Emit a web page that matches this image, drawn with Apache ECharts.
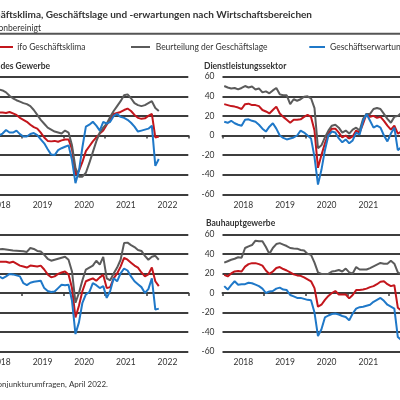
<!DOCTYPE html>
<html><head><meta charset="utf-8">
<script src="https://cdn.jsdelivr.net/npm/echarts@6/dist/echarts.min.js"></script>
<style>html,body{margin:0;padding:0;background:#fff}#c{width:400px;height:400px}</style>
</head><body><div id="c"></div>
<script>
// ---- data (monthly, Jan 2018 – Apr 2022) ----
const years = ['2018','2019','2020','2021','2022'];
const panelTitles = ['Verarbeitendes Gewerbe','Dienstleistungssektor','Handel','Bauhauptgewerbe'];
const seriesNames = ['ifo Geschäftsklima','Beurteilung der Geschäftslage','Geschäftserwartungen'];
const yTicks = [-60,-40,-20,0,20,40,60];

const vgKlima = [28,27,26,25,24,23.5, 23.5,23,24,22.5,21,18, 16,14,11,8.5,7,3, -2,-5.5,-6,-5.5,-6.4,-5,
  -4,-4,-14,-40,-36,-27, -16,-11,-6,-2,2,5, 11,16,22,23,24,26, 27.5,25,21,18,17,17.5, 20,22,-2,-1];
const vgLage = [50,50,49,48,48,47, 46,44,40.5,38,36,34.5, 33,32,30,26,21,16, 12,8,6,4,3,2,
  5,3,-10,-33,-42,-42, -38,-28,-17,-6,3,8, 12,19,25,30,35,41, 42,38,33,31,30,31, 33,35,28,25];
const vgErw = [5,4,3,2,1,0, 2,5.6,3,3,5,1.4, -1,-1,1.5,2.5,0.5,-4, -8,-14,-19.5,-20,-15,-13,
  -11.5,-10,-25,-48.6,-36,-12, 9,11,14,10,5,14, 12,14,20,22,19,18, 16,13,9,4,5,6, 7,10,-31,-24];

const dlKlima = [32,31,30,29.5,28.5,27, 32,32.5,31,31,30,26, 24.5,22.5,26,29.5,22.5,19, 16,13,16,16,16.5,19,
  21,19,5,-33,-20,-8, 2,7,7,3,-2,0, -3,-1,5,3,12,22, 19,20,18,19,15,10, 6,10,2,4];
const dlLage = [50.5,49,48,48.5,47,48.5, 50.5,49,50,47,48,44, 45,43,46,48.5,42,41, 41,32,37,35.5,37,39.5,
  40,38,28,-13,-10,-2, 5,10,11,8,3,5, 2,6,8,5,17,22, 22,27,28,27,22,17, 13,19,20,23];
const dlErw = [14,13,15,12.5,11,10, 16,16.5,15,14,11,7, 4,9,12.5,7,0,-2.5, -4,-3,-2,0,5,3,
  0,-3,-22,-50,-35,-15, 0,4,3,-3,-7,-4, -8,-5,3,1,15,22, 15,8,10,8,0,-6, 2,8,-15,-12];

const hdKlima = [33,32,32,31,32,32, 32,32,31,32,30,28, 27,26,28,27.5,27,28, 24,19,16,17,19.5,21,
  22,19,5,-25,-13,2, 12,13.5,15,12.5,16,18.5, 5,6,15,20,27,36, 34,31,28,26,21,17, 19,26,12,7];
const hdLage = [46,45,45,44,45,44.5, 45,44.5,44,43.5,43.3,43, 42.6,42,46,45,43,42.5, 39,35,33,34,35,36,
  37,34,22,-10,0,13, 24,26,28,33,29,37, 15,13,20,26,34,51, 51.5,49,47,44,43,38, 34,37,38,34];
const hdErw = [18,17,17,16,17,17, 15,17,19.5,19,18,17, 10,8,10.5,11.5,12,12.5, 5,2,1,1.5,5,8.5,
  8,8.5,-8,-42,-30,-10, -1.5,1,10,8,5,7, -5,2,15,12,20,25, 23,17,12,9,6,0, 4,15,-17,-16];

const bhKlima = [18.5,17,20,22,22.5,22, 27,29.5,30.5,30.5,29.5,28, 23,19.5,22,25.5,26.5,24.5, 23,21,19,18,17.5,16,
  14,12,5,-14,-12,-7, -3,0,2,-1.5,-1.5,-1.5, -5.5,-2,3,3,3.5,4.5, 6,7,9,11.5,12,9, 7,8,-15,-18];
const bhLage = [31,32.5,34,35,36.5,36, 46,47.7,49,53.5,53,53, 47,40,46,50,51,49.5, 48,46,45.5,45.3,44,43.5,
  40,39,31,21,19.5,19.5, 19.5,22,22.5,23.5,22,25, 21,20,26.5,24,24,24, 25.5,27.3,29,30.7,30,30, 33,30,21,19];
const bhErw = [7,3.5,8,12,8.5,9, 9,10.5,10,8.5,7,4.5, 0,1.5,2,4.5,5.5,3.5, 3,-2,-3.5,-5,-5,-6,
  -7,-7.5,-20,-44,-37,-25, -23,-21.5,-21,-22,-23.5,-24.5, -28,-21,-16,-14.5,-14,-13, -12,-9,-7,-5,-8,-12, -14,-16,-45,-48];

const panels = [[vgKlima,vgLage,vgErw],[dlKlima,dlLage,dlErw],[hdKlima,hdLage,hdErw],[bhKlima,bhLage,bhErw]];

// ---- layout / style ----
const FONT = 'Lato';
const TXT = '#333333';
const GRIDC = '#3d3d3d';
const colors = ['#c3161c','#5b5b5b','#1f78c8'];
const months = [];
years.forEach(y => { for (let m = 1; m <= 12; m++) months.push(y + '-' + (m < 10 ? '0' + m : m)); });

const gridBox = [
  [-20, 76.7, 117.6], [222.5, 76.7, 117.6], [-20, 234.3, 117.4], [222.5, 234.3, 117.4]
];
const grids = gridBox.map(b => ({left:b[0], top:b[1], width:208.3, height:b[2],
  outerBoundsMode:'none', containLabel:false}));
const titlePos = [[50,66,'right'],[204,66,'left'],[-38,223.5,'left'],[206,223.5,'left']];

const xAxis = grids.map((g,i) => ({
  type:'category', gridIndex:i, data:months, boundaryGap:true,
  axisLine:{show:true, lineStyle:{color:GRIDC, width:2}},
  axisTick:{show:true, interval:(idx)=>idx%12===0, length:3, lineStyle:{color:GRIDC, width:1.5}},
  axisLabel:{interval:(idx)=>idx%12===6, formatter:(v)=>v.slice(0,4), color:TXT,
    fontFamily:FONT, fontSize:8.5, margin:6, padding:[0,3.47,0,0], hideOverlap:false},
  splitLine:{show:false}
}));
const yAxis = grids.map((g,i) => ({
  type:'value', gridIndex:i, min:yTicks[0], max:yTicks[yTicks.length-1], interval:20,
  axisLine:{show:false}, axisTick:{show:false},
  axisLabel:{color:TXT, fontFamily:FONT, fontSize:8.5, margin:8},
  splitLine:{show:true, lineStyle:{color:GRIDC, width:2}}
}));
const series = [];
panels.forEach((p,i) => {
  p.forEach((arr,k) => {
    series.push({type:'line', name:seriesNames[k], xAxisIndex:i, yAxisIndex:i, data:arr,
      showSymbol:false, symbol:'none', lineStyle:{color:colors[k], width:2}, itemStyle:{color:colors[k]},
      animation:false, z:2+k});
  });
});

const graphic = [
  {type:'text', style:{text:'ifo Geschäftsklima, Geschäftslage und -erwartungen nach Wirtschaftsbereichen',
    x:312, y:15, align:'right', textAlign:'right', verticalAlign:'middle', textVerticalAlign:'middle',
    font:'bold 10px ' + FONT, fill:TXT}},
  {type:'text', style:{text:'saisonbereinigt', x:41, y:28, align:'right', textAlign:'right',
    verticalAlign:'middle', textVerticalAlign:'middle', font:'8.5px ' + FONT, fill:TXT}},
  {type:'line', shape:{x1:0, y1:33.8, x2:400, y2:33.8}, style:{stroke:'#555', lineWidth:2}},
  {type:'text', style:{text:'Quelle: ifo Konjunkturumfragen, April 2022.', x:108, y:384, align:'right', textAlign:'right',
    verticalAlign:'middle', textVerticalAlign:'middle', font:'8px ' + FONT, fill:TXT}}
];
const legendPos = [[-5,13,17.3],[131,150,155.7],[309.3,325,330]];
legendPos.forEach((lp,k) => {
  graphic.push({type:'line', shape:{x1:lp[0], y1:47, x2:lp[1], y2:47}, style:{stroke:colors[k], lineWidth:2}});
  graphic.push({type:'text', style:{text:seriesNames[k], x:lp[2], y:47, align:'left', textAlign:'left',
    verticalAlign:'middle', textVerticalAlign:'middle', font:'8.5px ' + FONT, fill:TXT}});
});
titlePos.forEach((tp,i) => {
  graphic.push({type:'text', style:{text:panelTitles[i], x:tp[0], y:tp[1], align:tp[2], textAlign:tp[2],
    verticalAlign:'middle', textVerticalAlign:'middle', font:'bold 8.5px ' + FONT, fill:TXT}});
});

const chart = echarts.init(document.getElementById('c'), null, {renderer:'canvas'});
chart.setOption({animation:false, grid:grids, xAxis, yAxis, series, graphic});
</script></body></html>
